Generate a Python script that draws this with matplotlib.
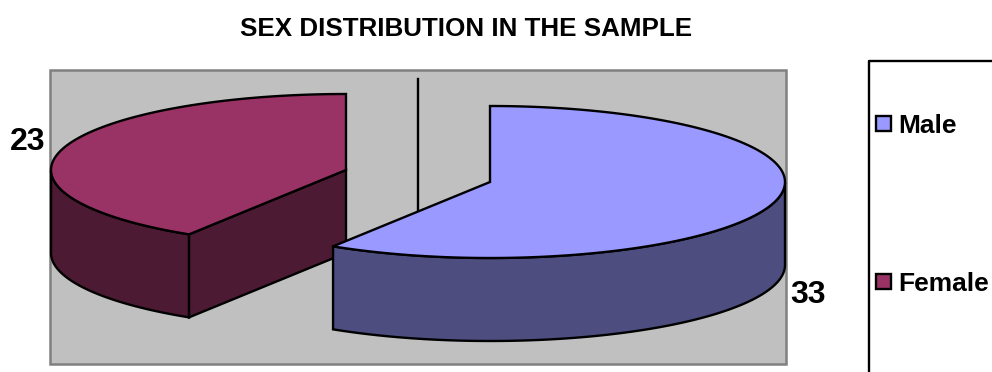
import numpy as np
import matplotlib
matplotlib.use('Agg')
import matplotlib.pyplot as plt
from matplotlib.patches import Polygon, Rectangle

# Datos de la muestra
sexos = ['Male', 'Female']
valores = [33, 23]
colores_top = ['#9999ff', '#993366']
colores_lado = ['#4d4d80', '#4d1a33']

plt.rcParams['font.family'] = ['Liberation Sans', 'DejaVu Sans']

fig = plt.figure(figsize=(9.92, 3.72), dpi=100)
ax = fig.add_axes([0, 0, 1, 1])
ax.set_xlim(0, 992)
ax.set_ylim(372, 0)
ax.axis('off')

# geometria del pastel (eje en pixeles)
rx, ry = 295, 76
prof = 83
centros = [(490, 182), (346, 170)]
grosor = 1.7


def arco(cx, cy, a0, a1):
    # a0 y a1 en grados, sentido horario visto desde arriba
    t = np.radians(np.linspace(a0, a1, 200))
    return np.column_stack([cx + rx*np.cos(t), cy - ry*np.sin(t)])


def lado_curvo(pts):
    # banda vertical bajo el borde del arco
    return np.vstack([pts, pts[::-1] + [0, prof]])


# fondo del area del grafico
ax.add_patch(Rectangle((49.5, 70), 736, 294, fc='#c0c0c0', ec='#808080', lw=1.8, zorder=1))

# linea del eje central
ax.plot([417.5, 417.5], [79, 212], color='k', lw=grosor, zorder=2)

total = sum(valores)
barrido = [v/total*360 for v in valores]
inicio = 90
corte = inicio - barrido[0]

# Female: va detras del otro sector
cx, cy = centros[1]
arc_f = arco(cx, cy, corte, corte - barrido[1])
vis = arc_f[np.sin(np.radians(np.linspace(corte, corte - barrido[1], 200))) <= 0]
ax.add_patch(Polygon(lado_curvo(vis), fc=colores_lado[1], ec='k', lw=grosor, zorder=3))
cara = np.array([[cx, cy], arc_f[0]])
ax.add_patch(Polygon(np.vstack([cara, cara[::-1] + [0, prof]]), fc=colores_lado[1], ec='k', lw=grosor, zorder=3))
ax.add_patch(Polygon(np.vstack([[cx, cy], arc_f]), fc=colores_top[1], ec='k', lw=grosor, zorder=4))

# Male
cx, cy = centros[0]
arc_m = arco(cx, cy, inicio, corte)
vis = arc_m[np.sin(np.radians(np.linspace(inicio, corte, 200))) <= 0]
ax.add_patch(Polygon(lado_curvo(vis), fc=colores_lado[0], ec='k', lw=grosor, zorder=5))
ax.add_patch(Polygon(np.vstack([[cx, cy], arc_m]), fc=colores_top[0], ec='k', lw=grosor, zorder=6))

# textos
ax.text(466, 29, 'SEX DISTRIBUTION IN THE SAMPLE', fontsize=18.7, fontweight='bold',
        ha='center', va='center', zorder=8)
ax.text(27.5, 142, str(valores[1]), fontsize=23, fontweight='bold', ha='center', va='center', zorder=8)
ax.text(808, 295, str(valores[0]), fontsize=23, fontweight='bold', ha='center', va='center', zorder=8)

# leyenda, se corta en el borde derecho y abajo
ax.plot([868.5, 868.5, 992], [372, 60.5, 60.5], color='k', lw=1.7, zorder=2)
for sexo, color, y in zip(sexos, colores_top, [123.5, 281.5]):
    ax.add_patch(Rectangle((875.5, y - 7.5), 15, 15, fc=color, ec='k', lw=1.7, zorder=8))
    ax.text(898.5, y, sexo, fontsize=19, fontweight='bold', ha='left', va='center_baseline', zorder=8)

fig.savefig('out.png', dpi=100)
